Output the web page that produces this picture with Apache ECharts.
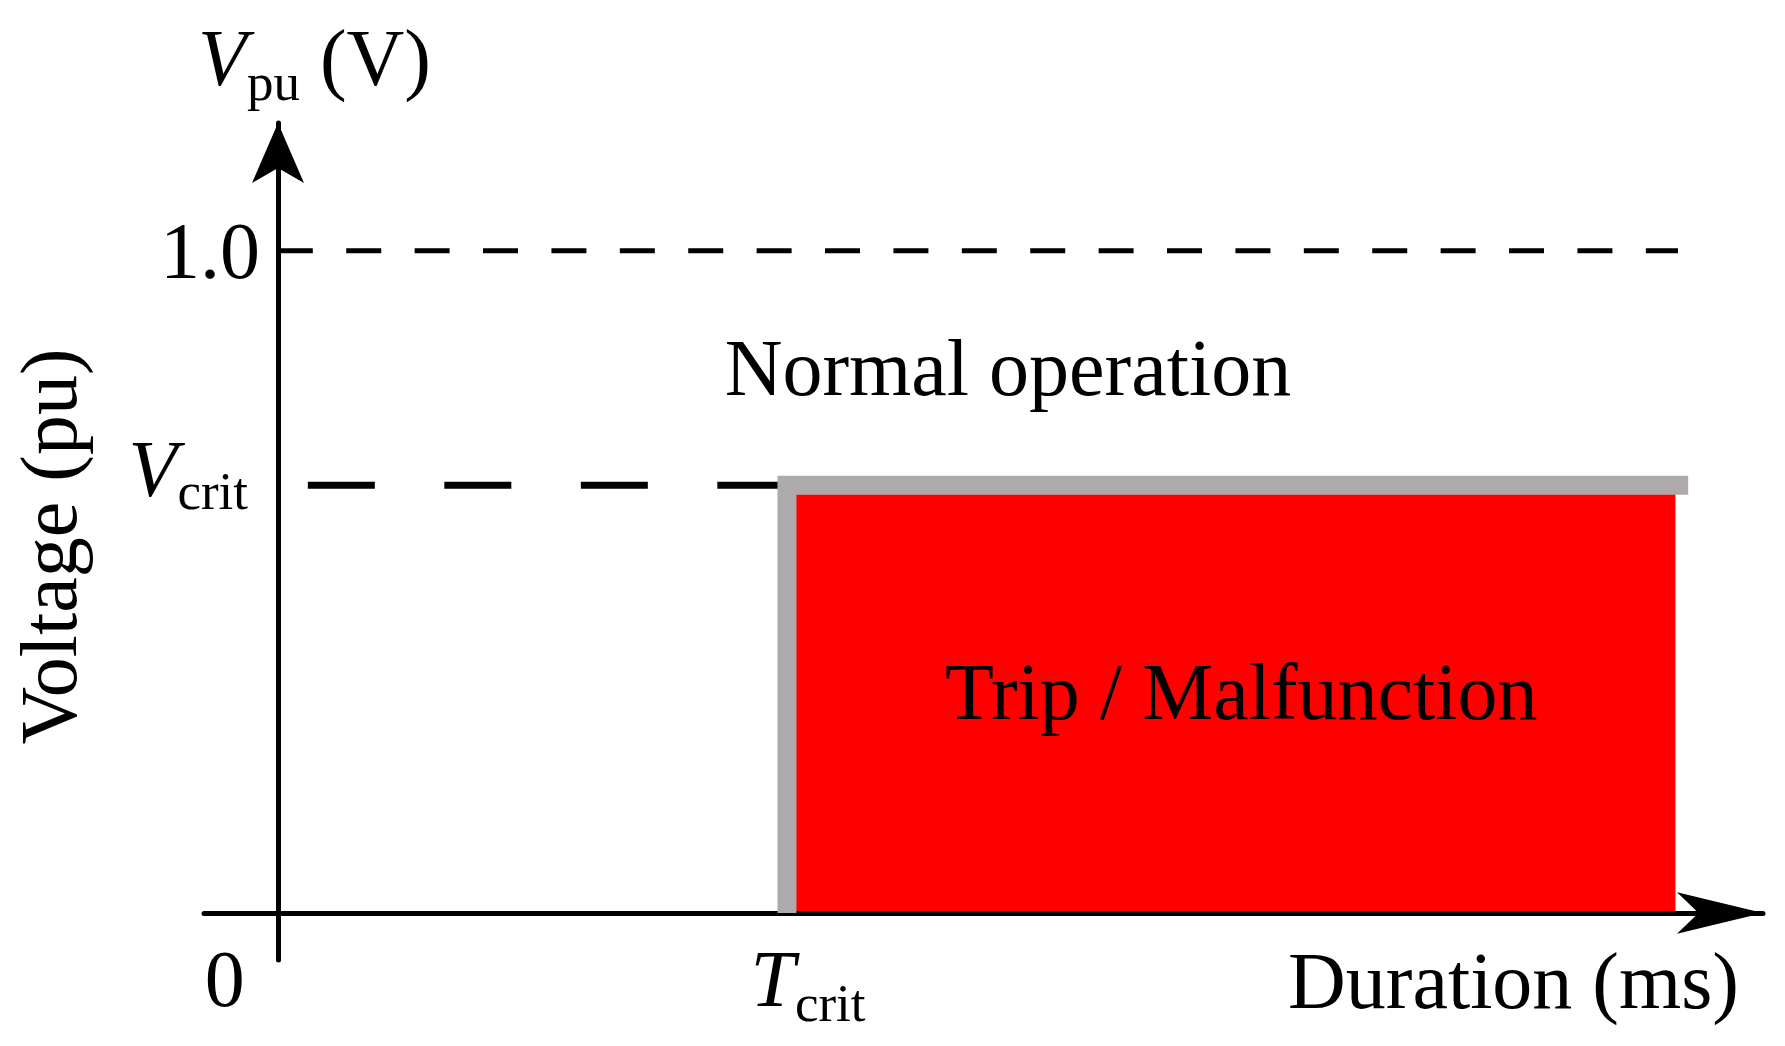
<!DOCTYPE html>
<html>
<head>
<meta charset="utf-8">
<title>Voltage dip immunity</title>
<script src="https://cdn.jsdelivr.net/npm/echarts@6/dist/echarts.min.js"></script>
<style>
  html, body { margin: 0; padding: 0; background: #fff; }
  #container { width: 1785px; height: 1046px; }
</style>
</head>
<body>
<div id="container"></div>
<script>
var FONT = "'Liberation Serif', 'Times New Roman', serif";

// duration axis (in units of T_crit) and voltage axis (pu)
var xTicks = [0, 1];
var yTicks = [1.0, 0.646];
var tCrit = 1;
var vCrit = 0.646;

// reference lines
var nominalX = [0, 2.75];
var nominalY = [1.0, 1.0];
var critX = [0, tCrit];
var critY = [vCrit, vCrit];

// trip boundary (grey) and trip region (red)
var boundaryX = [tCrit, tCrit, 2.77];
var boundaryY = [0, vCrit, vCrit];
var tripX = [tCrit, 2.745];
var tripY = [0, vCrit];
var normalX = [0, 2.75];
var normalY = [vCrit, 1.0];

function pairs(xs, ys) {
  return xs.map(function (x, i) { return [x, ys[i]]; });
}

var rich = {
  i: { fontFamily: FONT, fontSize: 80, fontStyle: 'italic', lineHeight: 80, color: '#000' },
  ti: { fontFamily: FONT, fontSize: 80, fontStyle: 'italic', lineHeight: 80, color: '#000', padding: [0, 0, 0, 42] },
  s: { fontFamily: FONT, fontSize: 53, height: 36, lineHeight: 36, verticalAlign: 'bottom', color: '#000' },
  sy: { fontFamily: FONT, fontSize: 53, height: 40, lineHeight: 36, verticalAlign: 'bottom', color: '#000', padding: [0, 12, 0, 0] },
  n: { fontFamily: FONT, fontSize: 80, lineHeight: 80, color: '#000' },
  z: { fontFamily: FONT, fontSize: 80, lineHeight: 80, color: '#000', padding: [0, 106, 0, 0] },
  g1: { fontSize: 1, lineHeight: 12 },
  g2: { fontSize: 1, lineHeight: 20 }
};

var dom = document.getElementById('container');
var chart = echarts.init(dom, null, { renderer: 'canvas' });

var option = {
  backgroundColor: '#fff',
  animation: false,
  grid: { left: 204, right: 22, top: 123, bottom: 86, containLabel: false, outerBoundsMode: 'none' },
  xAxis: {
    type: 'value',
    min: -0.145,
    max: 2.917,
    offset: -47,
    z: 1.5,
    axisLine: {
      onZero: false,
      symbol: ['none', 'arrow'],
      symbolSize: [31, 86],
      lineStyle: { color: '#000', width: 5 }
    },
    axisTick: { show: false },
    splitLine: { show: false },
    axisLabel: {
      customValues: xTicks,
      margin: 32,
      rich: rich,
      formatter: function (v) {
        return v === 0 ? '{z|0}' : '{ti|T}{s|crit}';
      }
    },
    name: 'Duration (ms)',
    nameLocation: 'end',
    nameGap: -24,
    nameTextStyle: {
      fontFamily: FONT, fontSize: 80, lineHeight: 80, color: '#000',
      align: 'right', verticalAlign: 'top', padding: [34, 0, 0, 0]
    }
  },
  yAxis: [
    {
      type: 'value',
      min: -0.071,
      max: 1.193,
      offset: -74,
      z: 1.5,
      axisLine: {
        onZero: false,
        symbol: ['none', 'arrow'],
        symbolSize: [39, 60],
        lineStyle: { color: '#000', width: 5 }
      },
      axisTick: { show: false },
      splitLine: { show: false },
      axisLabel: {
        customValues: yTicks,
        margin: 18,
        rich: rich,
        formatter: function (v) {
          return v === 1 ? '{g1| }\n{n|1.0}' : '{i|V}{sy|crit}\n{g2| }';
        }
      },
      name: '{i|V}{s|pu}{n| (V)}',
      nameLocation: 'end',
      nameGap: 19,
      nameTextStyle: { rich: rich, padding: [0, 0, 0, 73] }
    },
    {
      type: 'value',
      position: 'left',
      min: -0.071,
      max: 1.193,
      axisLine: { show: false, onZero: false },
      axisTick: { show: false },
      axisLabel: { show: false },
      splitLine: { show: false },
      name: 'Voltage (pu)',
      nameLocation: 'middle',
      nameGap: 109,
      nameTextStyle: { fontFamily: FONT, fontSize: 80, lineHeight: 80, color: '#000', padding: [0, 10, 0, 0] }
    }
  ],
  series: [
    {
      name: 'nominal',
      type: 'line',
      z: 3,
      symbol: 'none',
      silent: true,
      data: pairs(nominalX, nominalY),
      lineStyle: { color: '#000', width: 5, type: [35, 33.4] },
      markArea: {
        silent: true,
        itemStyle: { color: 'rgba(0,0,0,0)' },
        label: {
          show: true, position: 'inside', offset: [30, 6],
          fontFamily: FONT, fontSize: 80, color: '#000'
        },
        data: [[
          { name: 'Normal operation', xAxis: normalX[0], yAxis: normalY[0] },
          { xAxis: normalX[1], yAxis: normalY[1] }
        ]]
      }
    },
    {
      name: 'critical',
      type: 'line',
      z: 3,
      symbol: 'none',
      silent: true,
      data: pairs(critX, critY),
      lineStyle: { color: '#000', width: 7, type: [67, 69.5], dashOffset: 106.5 }
    },
    {
      name: 'boundary',
      type: 'line',
      z: 4,
      symbol: 'none',
      silent: true,
      data: pairs(boundaryX, boundaryY),
      lineStyle: { color: '#aeaaac', width: 19, join: 'miter', cap: 'butt' },
      markArea: {
        silent: true,
        itemStyle: { color: '#ff0000', opacity: 1 },
        label: {
          show: true, position: 'inside', offset: [10, -1],
          fontFamily: FONT, fontSize: 80, color: '#000'
        },
        data: [[
          { name: 'Trip / Malfunction', xAxis: tripX[0], yAxis: tripY[0] },
          { xAxis: tripX[1], yAxis: tripY[1] }
        ]]
      }
    }
  ]
};

chart.setOption(option);

window.addEventListener('resize', function () {
  chart.resize();
});
</script>
</body>
</html>
